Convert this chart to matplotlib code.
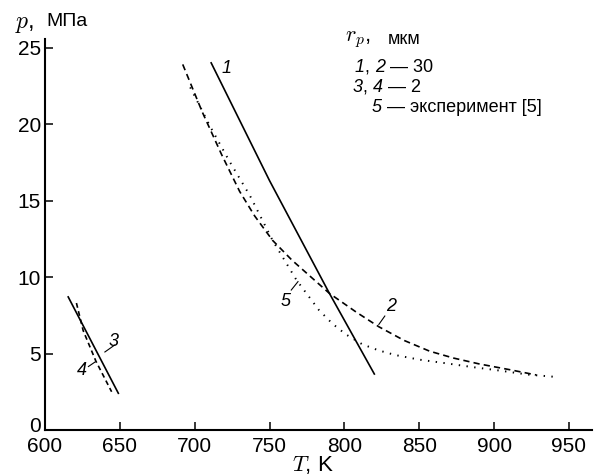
import matplotlib
matplotlib.use("Agg")
import matplotlib.pyplot as plt
from matplotlib.offsetbox import TextArea, HPacker, AnnotationBbox
from matplotlib.transforms import ScaledTranslation

plt.rcParams["font.family"] = ["Liberation Sans", "DejaVu Sans"]
plt.rcParams["lines.scale_dashes"] = False

# curve 1 (solid) and 2 (dashed): r_p = 30 um
t1 = [711, 750, 790, 820]
p1 = [24.0, 16.3, 8.93, 3.66]
t2 = [692, 705, 718, 730, 740, 752, 765, 780, 790, 808, 823, 840, 857, 873, 890, 910, 928]
p2 = [23.9, 20.8, 18.0, 15.6, 14.0, 12.4, 11.1, 9.8, 8.93, 7.7, 6.75, 5.85, 5.15, 4.7, 4.32, 3.95, 3.6]
# curve 3 (solid) and 4 (dashed): r_p = 2 um
t3 = [615.5, 649]
p3 = [8.7, 2.4]
t4 = [621, 625.5, 634, 644.5]
p4 = [8.3, 6.5, 4.5, 2.5]
# curve 5 (dotted): experiment
t5 = [697, 710, 723, 737, 752, 768, 783, 792, 801, 812, 823, 834, 850, 868, 885, 901, 923, 940]
p5 = [22.4, 19.9, 17.6, 15.3, 12.4, 9.8, 7.84, 6.95, 6.25, 5.6, 5.2, 4.9, 4.6, 4.36, 4.12, 3.92, 3.62, 3.48]

x_ticks = [600, 650, 700, 750, 800, 850, 900, 950]
y_ticks = [0, 5, 10, 15, 20, 25]

W, H = 599, 476
fig = plt.figure(figsize=(W / 100, H / 100), dpi=100)
ax = fig.add_axes([45 / W, 1 - 430 / H, (592 - 45) / W, (430 - 39) / H])

lw = 1.2
ax.plot(t1, p1, color="black", lw=lw)
ax.plot(t2, p2, color="black", lw=lw, dashes=(4.5, 3.0))
ax.plot(t3, p3, color="black", lw=lw)
ax.plot(t4, p4, color="black", lw=lw, dashes=(3.5, 2.5))
ax.plot(t5, p5, color="black", lw=1.4, dashes=(1.0, 4.6))

ax.set_xlim(600, 965.4)
ax.set_ylim(0, 25.56)
ax.set_xticks(x_ticks)
ax.set_yticks(y_ticks)
for side in ("top", "right"):
    ax.spines[side].set_visible(False)
for side in ("left", "bottom"):
    ax.spines[side].set_linewidth(1.5)
ax.tick_params(direction="in", length=6, width=1.1, labelsize=15)
ax.tick_params(axis="x", pad=5)
ax.tick_params(axis="y", pad=3)
# the "0" sits a little above the x axis, as in the source figure
lbl0 = ax.get_yticklabels()[0]
lbl0.set_transform(lbl0.get_transform() + ScaledTranslation(0, 5 / 100, fig.dpi_scale_trans))

# curve labels with leaders
lab = dict(fontsize=13, fontstyle="italic", ha="center", va="center")
ax.text(721, 23.6, "1", **lab)
ax.text(831.5, 8.1, "2", **lab)
ax.plot([823, 827], [6.9, 7.45], color="black", lw=0.8)
ax.text(645.5, 5.8, "3", **lab)
ax.plot([640, 646.5], [5.1, 5.55], color="black", lw=0.8)
ax.text(624.5, 3.9, "4", **lab)
ax.plot([629, 633.5], [4.15, 4.45], color="black", lw=0.8)
ax.text(761, 8.4, "5", **lab)
ax.plot([764.5, 769], [9.15, 9.7], color="black", lw=0.8)

# axis titles
fig.text(15 / W, 1 - 24 / H, "$p$,", fontsize=17, va="center", ha="left",
         math_fontfamily="cm")
fig.text(46 / W, 1 - 22 / H, "МПа", fontsize=14, va="center", ha="left")
fig.text(313 / W, 1 - 465 / H, "$T$, K", fontsize=16, va="center", ha="center",
         math_fontfamily="cm")
fig.text(345 / W, 1 - 40 / H, "$r_p$,", fontsize=16, va="center", ha="left",
         math_fontfamily="cm")
fig.text(388 / W, 1 - 40 / H, "мкм", fontsize=13, va="center", ha="left")


def rich(px, py, parts):
    kids = [TextArea(s, textprops=dict(fontsize=13, fontstyle=st)) for s, st in parts]
    box = HPacker(children=kids, align="baseline", pad=0, sep=0)
    ab = AnnotationBbox(box, (px, H - py), xycoords="figure pixels",
                        box_alignment=(0, 0.5), frameon=False, pad=0)
    fig.add_artist(ab)


rich(355, 68, [("1", "italic"), (", ", "normal"), ("2", "italic"), (" — 30", "normal")])
rich(353, 88, [("3", "italic"), (", ", "normal"), ("4", "italic"), (" — 2", "normal")])
rich(372, 107, [("5", "italic"), (" — эксперимент [5]", "normal")])

fig.savefig("out.png", dpi=100)
